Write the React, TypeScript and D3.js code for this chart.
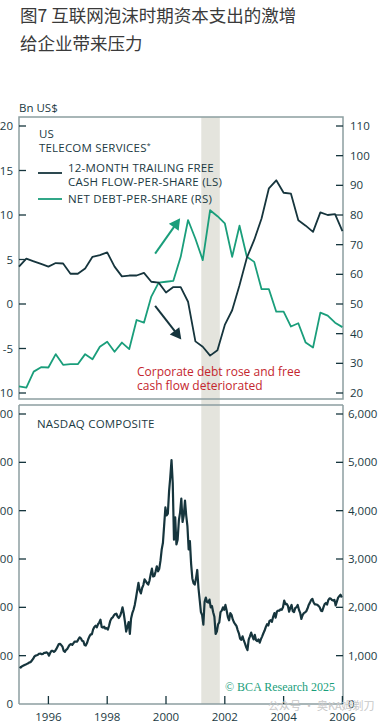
import React from "react";
import * as d3 from "d3";

// ---- Data ----
const quarterStart = 1995;
// 12-month trailing free cash flow per share (left scale), quarterly from 1995Q1
const fcfValues = [
  4.2, 5.1, 4.8, 4.5, 4.2, 4.6, 4.55, 3.4, 3.4, 4.0, 5.3, 5.5, 5.8, 4.2, 3.1, 3.2,
  3.2, 3.5, 2.5, 2.4, 1.3, 1.9, 1.9, 0.25, -4.2, -4.8, -5.8, -5.2, -2.35, -0.7, 2.1, 5.2,
  7.2, 9.6, 13.0, 13.9, 12.5, 12.4, 9.4, 8.8, 8.1, 10.3, 10.0, 10.1, 8.2,
];
// Net debt per share (right scale), quarterly from 1995Q1
const netDebtValues = [
  22.2, 21.8, 27.2, 28.7, 28.6, 33.1, 29.5, 29.7, 29.7, 33.1, 31.4, 35.6, 37.3, 33.9, 37.0, 34.8,
  44.6, 43.7, 52.5, 57.2, 57.5, 57.8, 65.9, 78.3, 72.0, 64.8, 81.6, 79.6, 77.2, 65.9, 76.4, 65.9,
  64.2, 55.0, 55.0, 47.4, 47.4, 42.4, 43.5, 37.0, 35.3, 47.1, 46.1, 43.7, 42.2,
];
// NASDAQ composite, semi-monthly from Jan 1995
const nasdaqValues = [
  770, 755, 780, 794, 805, 817, 830, 843, 860, 865, 900, 933, 980, 1001, 1010, 1020, 1040, 1044, 1030, 1036, 1060, 1059, 1070, 1052,
  1000, 1060, 1100, 1100, 1080, 1101, 1140, 1191, 1240, 1243, 1220, 1185, 1100, 1081, 1120, 1142, 1190, 1227, 1240, 1222, 1260, 1293, 1290, 1291,
  1340, 1380, 1360, 1310, 1300, 1222, 1210, 1261, 1340, 1400, 1440, 1442, 1540, 1594, 1620, 1587, 1650, 1686, 1745, 1594, 1580, 1601, 1560, 1570,
  1540, 1619, 1720, 1771, 1790, 1835, 1860, 1868, 1810, 1779, 1820, 1895, 2000, 1872, 1700, 1499, 1600, 1694, 1450, 1771, 1880, 1950, 2050, 2193,
  2350, 2505, 2350, 2288, 2400, 2461, 2580, 2543, 2500, 2471, 2550, 2686, 2800, 2638, 2650, 2739, 2850, 2746, 2800, 2966, 3200, 3336, 3700, 4069,
  3900, 3940, 4400, 4697, 5048, 4573, 3400, 3861, 3300, 3401, 3800, 3966, 4250, 3767, 3900, 4206, 3900, 3673, 3200, 3370, 2900, 2598, 2500, 2471,
  2600, 2773, 2400, 2152, 1900, 1840, 1640, 2116, 2200, 2110, 2100, 2161, 2000, 2027, 1900, 1805, 1450, 1499, 1650, 1690, 1900, 1931, 2000, 1950,
  2050, 1934, 1800, 1731, 1880, 1845, 1750, 1688, 1650, 1616, 1530, 1463, 1350, 1328, 1400, 1315, 1250, 1172, 1114, 1330, 1400, 1479, 1400, 1336,
  1430, 1321, 1300, 1338, 1270, 1341, 1400, 1464, 1520, 1596, 1650, 1623, 1720, 1735, 1700, 1810, 1880, 1787, 1910, 1932, 1930, 1960, 1950, 2003,
  2140, 2066, 2070, 2030, 1910, 1994, 2050, 1920, 1900, 1987, 2000, 2048, 1950, 1887, 1760, 1838, 1880, 1897, 1920, 1975, 2050, 2097, 2150, 2175,
  2100, 2062, 2060, 2052, 2030, 1999, 1930, 1922, 2000, 2068, 2090, 2057, 2150, 2185, 2180, 2152, 2140, 2152, 2040, 2120, 2200, 2233, 2260, 2205,
];
const leftTicks = [-10, -5, 0, 5, 10, 15, 20];
const rightTicks = [20, 30, 40, 50, 60, 70, 80, 90, 100, 110];
const nasdaqTicks = [0, 1000, 2000, 3000, 4000, 5000, 6000];
const yearTicks = [1996, 1998, 2000, 2002, 2004, 2006];
const recession = [2001.2, 2001.83];

// ---- Style ----
const FONT = "'Open Sans', Lato, sans-serif";
const TEXT = "#1b3a43";
const FRAME = "#8c9ea0";
const DARK = "#16353d";
const GREEN = "#1a9e7b";
const RED = "#c4262e";
const SHADE = "#e4e4dd";

export default function App() {
  const W = 391, H = 728;
  const L = 19, R = 343;
  const x = d3.scaleLinear().domain([1995, 2006.02]).range([L, R]);
  const yL = d3.scaleLinear().domain([-10, 20]).range([393, 126]);
  const yR = d3.scaleLinear().domain([20, 110]).range([393, 126]);
  const yN = d3.scaleLinear().domain([0, 6000]).range([704, 414]);
  const topTop = 117, topBot = 399, botTop = 405, botBot = 704;

  const qt = (i: number) => quarterStart + i * 0.25;
  const fcfLine = d3.line<number>().x((_, i) => x(qt(i))).y((v) => yL(v));
  const ndLine = d3.line<number>().x((_, i) => x(qt(i))).y((v) => yR(v));
  const nLine = d3.line<number>().x((_, i) => x(1995 + (i + 0.5) / 24)).y((v) => yN(v));

  const fmt = d3.format(",");

  // arrows in data coordinates
  const gA = { x1: x(1999.63), y1: yR(67), x2: x(2000.48), y2: yR(78.9) };
  const dA = { x1: x(1999.63), y1: yL(-0.2), x2: x(2000.52), y2: yL(-4.0) };
  const arrowHead = (a: { x1: number; y1: number; x2: number; y2: number }) => {
    const ang = Math.atan2(a.y2 - a.y1, a.x2 - a.x1);
    const len = 11, wid = 6;
    const bx = a.x2 - len * Math.cos(ang), by = a.y2 - len * Math.sin(ang);
    const px = -Math.sin(ang) * wid, py = Math.cos(ang) * wid;
    return `M${a.x2},${a.y2}L${bx + px},${by + py}L${bx - px},${by - py}Z`;
  };
  const shaft = (a: { x1: number; y1: number; x2: number; y2: number }) => {
    const ang = Math.atan2(a.y2 - a.y1, a.x2 - a.x1);
    return { x1: a.x1, y1: a.y1, x2: a.x2 - 9 * Math.cos(ang), y2: a.y2 - 9 * Math.sin(ang) };
  };
  const gs = shaft(gA), ds = shaft(dA);

  return (
    <svg width={W} height={H} style={{ position: "absolute", left: 0, top: 0, background: "#fff" }} fontFamily={FONT}>
      <rect width={W} height={H} fill="#fff" />
      {/* title */}
      <text x={20} y={22} fontSize={17.5} fill="#3a3a3a" fontFamily="'Noto Sans CJK SC', sans-serif">图7 互联网泡沫时期资本支出的激增</text>
      <text x={20} y={50} fontSize={17.5} fill="#3a3a3a" fontFamily="'Noto Sans CJK SC', sans-serif">给企业带来压力</text>
      <text x={19} y={112} fontSize={11.5} fill={TEXT}>Bn US$</text>

      {/* recession shading */}
      <rect x={x(recession[0])} y={topTop} width={x(recession[1]) - x(recession[0])} height={botBot - topTop} fill={SHADE} />

      {/* top panel frame */}
      <rect x={L} y={topTop} width={R - L} height={topBot - topTop} fill="none" stroke={FRAME} strokeWidth={1.5} />
      {leftTicks.map((t) => (
        <g key={"l" + t}>
          <line x1={L} x2={L + 7} y1={yL(t)} y2={yL(t)} stroke={DARK} strokeWidth={1.3} />
          <text x={13} y={yL(t)} dy="0.35em" textAnchor="end" fontSize={11.5} fill={TEXT}>{t}</text>
        </g>
      ))}
      {rightTicks.map((t) => (
        <g key={"r" + t}>
          <line x1={R - 7} x2={R} y1={yR(t)} y2={yR(t)} stroke={DARK} strokeWidth={1.3} />
          <text x={350} y={yR(t)} dy="0.35em" fontSize={11.5} fill={TEXT}>{t}</text>
        </g>
      ))}

      {/* series */}
      <path d={ndLine(netDebtValues) || ""} fill="none" stroke={GREEN} strokeWidth={1.8} strokeLinejoin="round" />
      <path d={fcfLine(fcfValues) || ""} fill="none" stroke={DARK} strokeWidth={1.8} strokeLinejoin="round" />

      {/* arrows */}
      <line {...gs} stroke={GREEN} strokeWidth={2} />
      <path d={arrowHead(gA)} fill={GREEN} />
      <line {...ds} stroke={DARK} strokeWidth={2} />
      <path d={arrowHead(dA)} fill={DARK} />

      {/* legend */}
      <text x={39} y={138} fontSize={11.5} fill={TEXT} letterSpacing={0.2}>US</text>
      <text x={39} y={152} fontSize={11.5} fill={TEXT} letterSpacing={0.2}>TELECOM SERVICES<tspan fontSize={7} dy={-4}>*</tspan></text>
      <line x1={38} x2={62} y1={173} y2={173} stroke={DARK} strokeWidth={1.8} />
      <text x={68} y={172} fontSize={11.5} fill={TEXT} letterSpacing={0.2}>12-MONTH TRAILING FREE</text>
      <text x={68} y={186} fontSize={11.5} fill={TEXT} letterSpacing={0.2}>CASH FLOW-PER-SHARE (LS)</text>
      <line x1={38} x2={62} y1={199} y2={199} stroke={GREEN} strokeWidth={1.8} />
      <text x={68} y={203} fontSize={11.5} fill={TEXT} letterSpacing={0.2}>NET DEBT-PER-SHARE (RS)</text>

      {/* annotation */}
      <text x={137} y={376} fontSize={12} fill={RED}>Corporate debt rose and free</text>
      <text x={137} y={390} fontSize={12} fill={RED}>cash flow deteriorated</text>

      {/* bottom panel frame */}
      <line x1={L} x2={R} y1={botTop} y2={botTop} stroke={FRAME} strokeWidth={1.5} />
      <line x1={L} x2={L} y1={botTop} y2={botBot} stroke={FRAME} strokeWidth={1.5} />
      <line x1={R} x2={R} y1={botTop} y2={botBot} stroke={FRAME} strokeWidth={1.5} />
      <line x1={L} x2={R} y1={botBot} y2={botBot} stroke={FRAME} strokeWidth={1.5} />
      {nasdaqTicks.map((t) => (
        <g key={"n" + t}>
          {t > 0 && <line x1={L} x2={L + 7} y1={yN(t)} y2={yN(t)} stroke={DARK} strokeWidth={1.3} />}
          {t > 0 && <line x1={R - 7} x2={R} y1={yN(t)} y2={yN(t)} stroke={DARK} strokeWidth={1.3} />}
          <text x={13} y={yN(t)} dy="0.35em" textAnchor="end" fontSize={11.5} fill={TEXT}>{fmt(t)}</text>
          <text x={348} y={yN(t)} dy="0.35em" fontSize={11.5} fill={TEXT}>{fmt(t)}</text>
        </g>
      ))}
      {yearTicks.map((t) => (
        <g key={"y" + t}>
          <line x1={x(t)} x2={x(t)} y1={botBot} y2={botBot - 8} stroke={DARK} strokeWidth={1.3} />
          <text x={x(t)} y={721} textAnchor="middle" fontSize={11.5} fill={TEXT}>{t}</text>
        </g>
      ))}
      <text x={37} y={428} fontSize={11.5} fill={TEXT} letterSpacing={0.2}>NASDAQ COMPOSITE</text>
      <path d={nLine(nasdaqValues) || ""} fill="none" stroke={DARK} strokeWidth={2.2} strokeLinejoin="round" />

      <text x={225} y={691} fontSize={12} fill={GREEN} fontFamily="'Liberation Serif', 'DejaVu Serif', serif">© BCA Research 2025</text>
      <text x={268} y={710} fontSize={11} fill="#c8c8c8" fontFamily="'Noto Sans CJK SC', sans-serif">公众号 · 奥KA姆剃刀</text>
    </svg>
  );
}
